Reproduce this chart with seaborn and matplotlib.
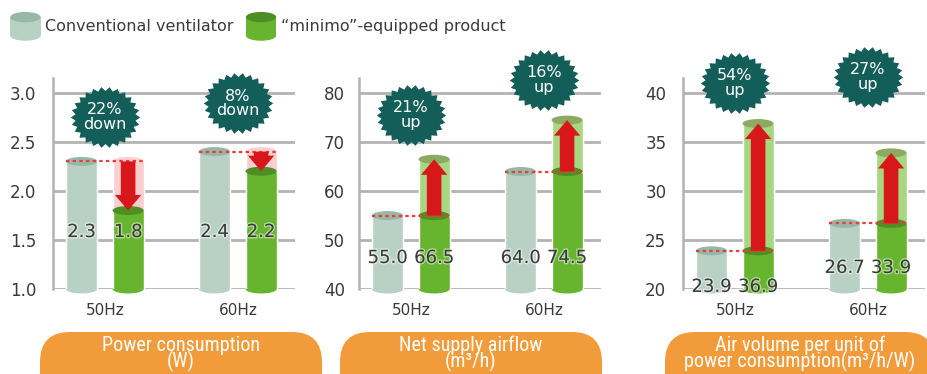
import matplotlib
matplotlib.use("Agg")

import numpy as np
import pandas as pd
import seaborn as sns
import matplotlib.pyplot as plt
import matplotlib.patheffects as pe
from matplotlib import transforms
from matplotlib.legend_handler import HandlerBase
from matplotlib.patches import Ellipse, FancyBboxPatch, Patch, Rectangle
from matplotlib.path import Path

# --- data -----------------------------------------------------------------
FREQS = ["50Hz", "60Hz"]
SERIES = ["Conventional ventilator", "\u201cminimo\u201d-equipped product"]

POWER_CONV = [2.3, 2.4]
POWER_MINIMO = [1.8, 2.2]
POWER_BADGES = ["22%\ndown", "8%\ndown"]

AIRFLOW_CONV = [55.0, 64.0]
AIRFLOW_MINIMO = [66.5, 74.5]
AIRFLOW_BADGES = ["21%\nup", "16%\nup"]

EFFIC_CONV = [23.9, 26.7]
EFFIC_MINIMO = [36.9, 33.9]
EFFIC_BADGES = ["54%\nup", "27%\nup"]

POWER_TICKS = [1.0, 1.5, 2.0, 2.5, 3.0]
AIRFLOW_TICKS = [40, 50, 60, 70, 80]
EFFIC_TICKS = [20, 25, 30, 35, 40]

PANEL_TITLES = [
    "Power consumption\n(W)",
    "Net supply airflow\n(m\u00b3/h)",
    "Air volume per unit of\npower consumption(m\u00b3/h/W)",
]

# --- colours --------------------------------------------------------------
CONV_BODY, CONV_TOP = "#b9d1c4", "#97b8a7"
MINI_BODY, MINI_TOP = "#67b42e", "#4d8f25"
GAIN_BODY, GAIN_TOP = "#a7d780", "#8caa63"
LOSS_BODY = "#fbcfcf"
RED, DOT_RED = "#d8171b", "#ef3a3a"
TEAL, ORANGE = "#145e5a", "#f29b3b"
GRID, TEXT = "#b3b3b3", "#3a3a3a"

sns.set_theme(style="white")
plt.rcParams["font.family"] = ["DejaVu Sans"]

W_PX, H_PX = 927, 374
fig = plt.figure(figsize=(W_PX / 100, H_PX / 100), dpi=100)

# starburst outline used for the percentage badges
_n = 52
_ang = np.linspace(0, 2 * np.pi, _n, endpoint=False)
_rad = np.where(np.arange(_n) % 2 == 0, 1.0, 0.87)
_verts = np.column_stack([_rad * np.cos(_ang), 0.88 * _rad * np.sin(_ang)])
STAR = Path(np.vstack([_verts, _verts[:1]]), closed=True)


def cap(ax, cx, y, w, color, z, px=9):
    lo, hi = ax.get_ylim()
    h = px * (hi - lo) / ax.bbox.height
    ax.add_patch(Ellipse((cx, y), w, h, facecolor=color, edgecolor="none",
                         zorder=z, clip_on=False))


def draw_panel(ax, conv, mini, badges, ylim, ticks, fmt, badge_y, label_y, pad):
    df = pd.DataFrame({
        "freq": FREQS * 2,
        "product": [SERIES[0]] * 2 + [SERIES[1]] * 2,
        "value": conv + mini,
    })
    sns.barplot(data=df, x="freq", y="value", hue="product",
                palette=[CONV_BODY, MINI_BODY], width=0.7, gap=0.33,
                saturation=1, errorbar=None, legend=False, ax=ax, zorder=2)
    ax.set_xlim(-0.39, 1.43)
    ax.set_ylim(*ylim)
    ax.set_yticks(ticks)
    ax.set_yticklabels([fmt.format(t) for t in ticks])

    trans = transforms.blended_transform_factory(ax.transData, ax.transAxes)
    for i in range(2):
        pc, pm = ax.containers[0][i], ax.containers[1][i]
        w = pc.get_width()
        cxc = pc.get_x() + w / 2
        cxm = pm.get_x() + w / 2
        old, new = conv[i], mini[i]

        cap(ax, cxc, ylim[0], w, CONV_BODY, 1.9)
        cap(ax, cxm, ylim[0], w, MINI_BODY, 1.9)
        cap(ax, cxc, old, w, CONV_TOP, 3)

        if new > old:
            ax.bar(cxm, new - old, bottom=old, width=w, color=GAIN_BODY, zorder=3)
            cap(ax, cxm, new, w, GAIN_TOP, 3.1)
            cap(ax, cxm, old, w, MINI_TOP, 3.2)
        else:
            ax.bar(cxm, old - new, bottom=new, width=w, color=LOSS_BODY, zorder=1.8)
            cap(ax, cxm, old, w, LOSS_BODY, 1.8)
            cap(ax, cxm, new, w, MINI_TOP, 3.2)

        ax.plot([pc.get_x(), pm.get_x() + w], [old, old], color=DOT_RED,
                lw=1.6, ls=(0, (1.5, 1.5)), zorder=4)
        ax.annotate("", xy=(cxm, new), xytext=(cxm, old), zorder=5,
                    arrowprops=dict(arrowstyle="simple,head_width=1.35,head_length=0.8,tail_width=0.75",
                                    mutation_scale=14, color=RED, lw=0,
                                    shrinkA=0, shrinkB=0))

        ax.scatter([i], [badge_y[i]], transform=trans, marker=STAR, s=2500,
                   color=TEAL, linewidths=0, clip_on=False, zorder=6)
        ax.text(i, badge_y[i], badges[i], transform=trans, ha="center",
                va="center", color="white", fontsize=11.5, linespacing=0.95,
                zorder=7)

        halo = [pe.withStroke(linewidth=2, foreground="white", alpha=0.5)]
        for cx, v in ((cxc, old), (cxm, new)):
            ax.text(cx, label_y[i], f"{v:.1f}", transform=trans, ha="center",
                    va="center", fontsize=13, color=TEXT, zorder=8,
                    path_effects=halo)

    ax.set_xlim(-0.39, 1.43)
    ax.set_ylim(*ylim)
    ax.set_xlabel("")
    ax.set_ylabel("")
    ax.set_axisbelow(True)
    ax.grid(axis="y", color=GRID, lw=2)
    ax.grid(axis="x", visible=False)
    for side in ("top", "right", "bottom"):
        ax.spines[side].set_visible(False)
    ax.spines["left"].set_color(GRID)
    ax.spines["left"].set_linewidth(1.8)
    ax.tick_params(axis="y", length=0, pad=pad, labelsize=12, labelcolor=TEXT)
    ax.tick_params(axis="x", length=0, pad=10, labelsize=11, labelcolor=TEXT)


panels = [
    (POWER_CONV, POWER_MINIMO, POWER_BADGES, (1.0, 3.15), POWER_TICKS, "{:.1f}",
     [0.815, 0.88], [0.27, 0.27], 12),
    (AIRFLOW_CONV, AIRFLOW_MINIMO, AIRFLOW_BADGES, (40, 83.1), AIRFLOW_TICKS, "{:d}",
     [0.825, 0.99], [0.147, 0.147], 10),
    (EFFIC_CONV, EFFIC_MINIMO, EFFIC_BADGES, (20, 41.55), EFFIC_TICKS, "{:d}",
     [0.976, 1.005], [0.01, 0.10], 12),
]
ax_left = [53, 359, 683]
for left, args in zip(ax_left, panels):
    ax = fig.add_axes([left / W_PX, 85 / H_PX, 242 / W_PX, 211 / H_PX])
    ax.patch.set_alpha(0)
    draw_panel(ax, *args)


# --- legend with cylinder icons -------------------------------------------
class CylinderHandler(HandlerBase):
    def __init__(self, body, top):
        super().__init__()
        self.body, self.top = body, top

    def create_artists(self, legend, orig_handle, xdescent, ydescent,
                       width, height, fontsize, trans):
        x0, y0 = -xdescent, -ydescent
        eh = height * 0.36
        base = Ellipse((x0 + width / 2, y0 + eh / 2), width, eh,
                       facecolor=self.body, edgecolor="none", transform=trans)
        body = Rectangle((x0, y0 + eh / 2), width, height - eh,
                         facecolor=self.body, edgecolor="none", transform=trans)
        top = Ellipse((x0 + width / 2, y0 + height - eh / 2), width, eh,
                      facecolor=self.top, edgecolor="none", transform=trans)
        return [base, body, top]


h1, h2 = Patch(), Patch()
fig.legend(handles=[h1, h2], labels=SERIES,
           handler_map={h1: CylinderHandler(CONV_BODY, CONV_TOP),
                        h2: CylinderHandler(MINI_BODY, MINI_TOP)},
           loc="upper left", bbox_to_anchor=(-0.001, 0.998), ncol=2, frameon=False,
           fontsize=11.5, handlelength=1.9, handleheight=2.4, handletextpad=0.3,
           columnspacing=0.75, labelcolor=TEXT, borderaxespad=0.3)

# --- orange captions --------------------------------------------------------
box_px = [(40, 322), (340, 602), (665, 935)]
for (x0, x1), title in zip(box_px, PANEL_TITLES):
    fig.add_artist(FancyBboxPatch(
        (x0 / 100, -0.3), (x1 - x0) / 100, 0.72,
        boxstyle="round,pad=0,rounding_size=0.3",
        transform=fig.dpi_scale_trans, facecolor=ORANGE, edgecolor="none"))
    fig.text((x0 + x1) / 2 / W_PX, 20 / H_PX, title, ha="center", va="center",
             color="white", fontsize=14.5, linespacing=0.78,
             family=["Roboto Condensed", "Liberation Sans Narrow", "Roboto"],
             fontstretch="condensed")

fig.savefig("out.png", dpi=100)
